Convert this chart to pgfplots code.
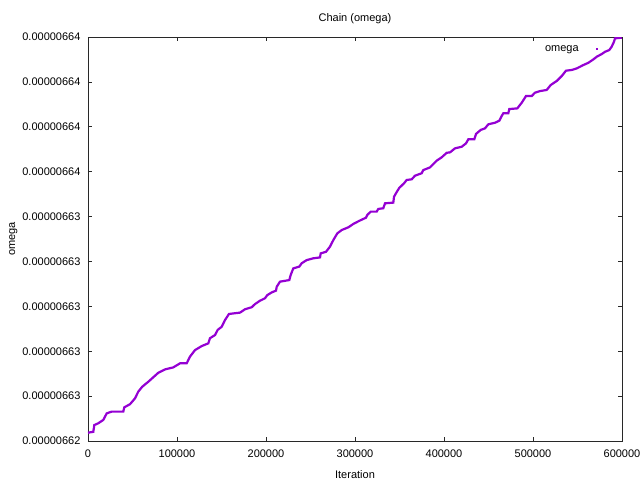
\documentclass[border=0pt]{standalone}
\usepackage{fontspec}
\setmainfont{Liberation Sans}
\usepackage{pgfplots}
\pgfplotsset{compat=1.18}
\usepackage{pgfplotstable}
\definecolor{gpviolet}{RGB}{148,0,211}
\definecolor{gpaxis}{RGB}{40,40,40}
\pgfplotstableread{
x y
0 662.437
5955 662.441
7079 662.471
11573 662.479
17191 662.494
21011 662.523
26629 662.531
39663 662.531
40787 662.550
47191 662.564
52809 662.590
56517 662.620
61011 662.642
67753 662.664
73371 662.684
78989 662.704
86517 662.719
95843 662.728
103371 662.746
110899 662.746
114607 662.776
120225 662.805
127753 662.823
135169 662.835
137079 662.858
142697 662.872
145731 662.895
150225 662.909
153933 662.939
158428 662.966
170787 662.972
176405 662.987
183933 662.996
187641 663.010
193259 663.025
198877 663.036
201461 663.050
206405 663.062
211237 663.070
212023 663.087
215731 663.110
226181 663.117
227754 663.140
230675 663.169
237417 663.177
240114 663.192
245732 663.206
253148 663.214
260675 663.218
261462 663.236
267417 663.243
271911 663.266
275619 663.295
280113 663.325
285057 663.340
292473 663.352
298091 663.367
304832 663.381
312361 663.395
313821 663.407
317641 663.422
324383 663.422
326181 663.434
331799 663.437
333709 663.459
343035 663.462
343822 663.488
346069 663.504
349777 663.528
355058 663.548
358091 663.563
363709 663.566
367417 663.582
374945 663.593
376743 663.607
384271 663.619
387979 663.634
391799 663.649
397417 663.664
403035 663.684
406743 663.686
412361 663.704
419889 663.711
424721 663.726
427305 663.744
434047 663.744
435957 663.768
441238 663.786
446069 663.793
449777 663.811
457305 663.818
462136 663.827
464833 663.848
466631 663.860
472249 663.860
473372 663.879
482361 663.882
487305 663.907
492137 663.937
498541 663.937
502249 663.952
507867 663.959
515395 663.964
519889 663.986
526631 664.004
532249 664.026
537081 664.050
543485 664.053
549103 664.060
556519 664.075
562136 664.085
567754 664.100
571575 664.112
577193 664.124
580901 664.134
585732 664.142
588429 664.157
591013 664.179
592137 664.194
599663 664.197
}\omegadata
\begin{document}
\begin{tikzpicture}
\useasboundingbox (-88pt,-39pt) rectangle (552pt,441pt);
\begin{axis}[
  at={(0,0)}, anchor=south west,
  scale only axis,
  width=534pt, height=404pt,
  xmin=0, xmax=600000,
  ymin=662.4, ymax=664.2,
  axis line style={gpaxis, line width=0.9pt},
  tick style={gpaxis, line width=0.7pt},
  tick align=inside,
  major tick length=4.5pt,
  xtick={0,100000,200000,300000,400000,500000,600000},
  xticklabels={0,100000,200000,300000,400000,500000,600000},
  ytick={662.4,662.6,662.8,663.0,663.2,663.4,663.6,663.8,664.0,664.2},
  yticklabels={0.00000662,0.00000663,0.00000663,0.00000663,0.00000663,0.00000663,0.00000664,0.00000664,0.00000664,0.00000664},
  scaled x ticks=false, scaled y ticks=false,
  ticklabel style={font=\fontsize{11}{13}\selectfont, text=black},
  yticklabel style={xshift=-4pt},
  xticklabel style={yshift=-5pt},
  title={Chain (omega)},
  title style={font=\fontsize{11}{13}\selectfont, yshift=4pt},
  xlabel={Iteration},
  ylabel={omega},
  label style={font=\fontsize{11}{13}\selectfont},
  xlabel style={yshift=-6pt},
  ylabel style={yshift=-2pt},
  legend style={at={(1,1)}, anchor=north east, xshift=-24pt, yshift=-6pt,
    draw=none, fill=none, inner sep=0pt, font=\fontsize{11}{13}\selectfont},
  legend cell align=right,
  legend plot pos=right,
  legend image code/.code={\path (0pt,0pt); \fill[gpviolet] (15.3pt,-0.7pt) rectangle (16.7pt,0.7pt);},
]
\addplot[gpviolet, line width=2.2pt, forget plot] table[x=x,y=y] {\omegadata};
\addlegendimage{gpviolet}
\addlegendentry{omega}
\end{axis}
\end{tikzpicture}
\end{document}
